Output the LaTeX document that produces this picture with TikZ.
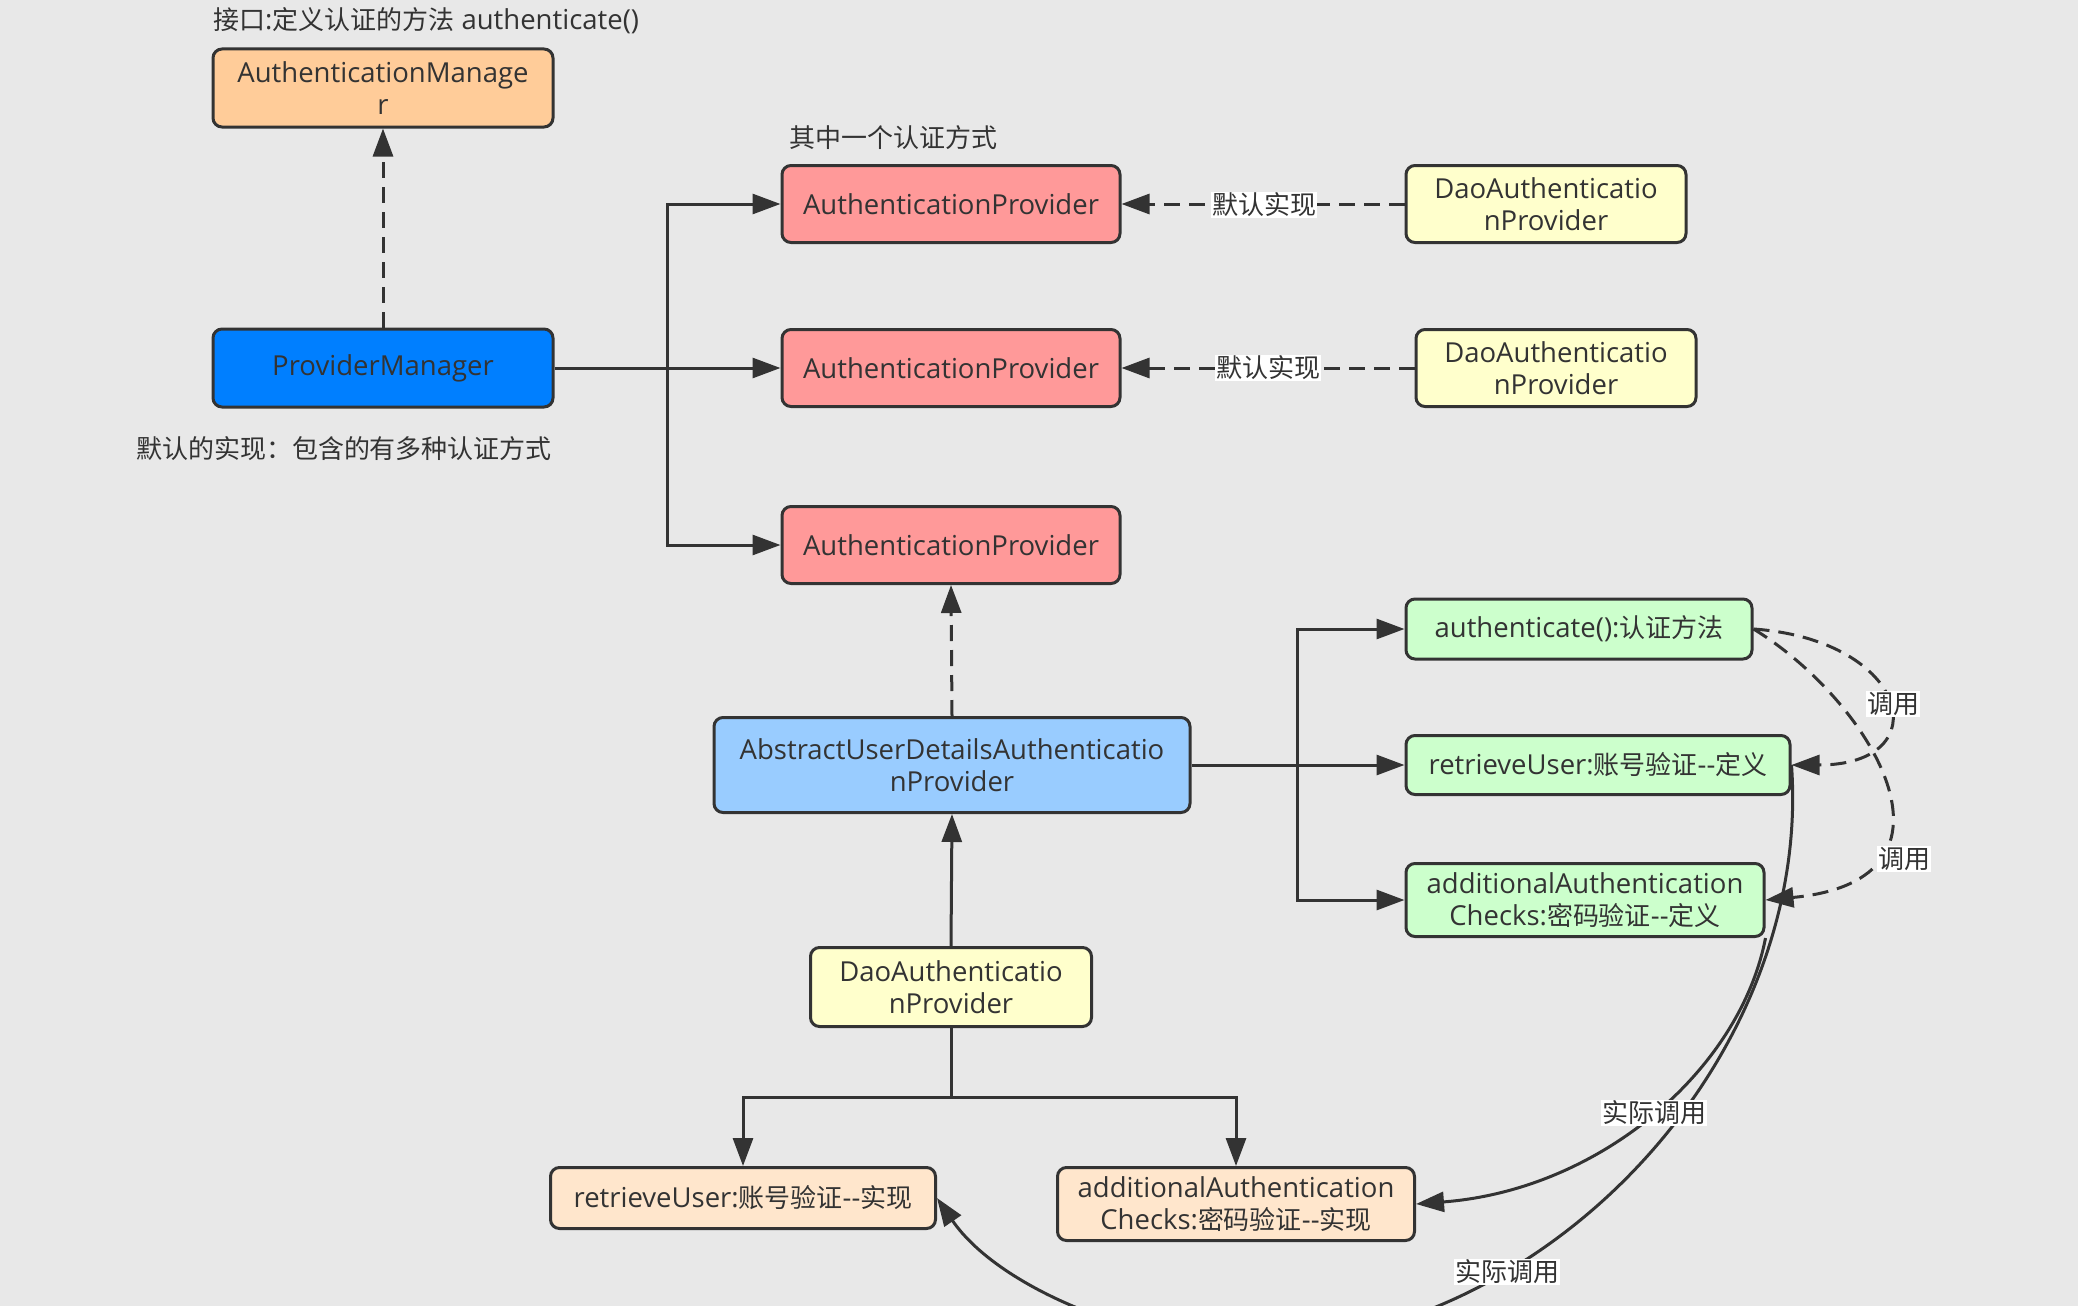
\documentclass[tikz,border=0pt]{standalone}
\usepackage{fontspec}
\setmainfont{Open Sans}
\newfontfamily\cjk[Scale=0.945]{Noto Sans CJK SC}
\usetikzlibrary{arrows.meta,calc}
\definecolor{bgC}{HTML}{E8E8E8}
\definecolor{lineC}{HTML}{333333}
\definecolor{textC}{HTML}{333333}
\definecolor{orangeC}{HTML}{FFCC99}
\definecolor{blueC}{HTML}{007FFF}
\definecolor{pinkC}{HTML}{FF9999}
\definecolor{yellowC}{HTML}{FFFFCC}
\definecolor{lblueC}{HTML}{99CCFF}
\definecolor{greenC}{HTML}{CCFFCC}
\definecolor{peachC}{HTML}{FFE6CC}
\newcommand\fsz{\fontsize{27.5}{32}\selectfont}
\begin{document}
\begin{tikzpicture}[x=1pt,y=-1pt,
  box/.style={draw=lineC, line width=3pt, rounded corners=9pt, align=center,
    inner sep=0pt, font=\fsz, text=textC},
  arr/.style={draw=lineC, line width=3pt, -{Triangle[length=28pt,width=20pt]}},
  darr/.style={arr, dash pattern=on 16pt off 9pt},
  lbl/.style={font=\fsz, text=textC, inner sep=0pt},
  elbl/.style={font=\fsz, text=textC, fill=white, inner sep=1pt}
]
\path[use as bounding box, fill=bgC] (0,0) rectangle (2078,1306);
\clip (0,0) rectangle (2078,1306);

% nodes
\node[box, fill=orangeC, minimum width=340pt, minimum height=78pt] (am) at (383,88) {AuthenticationManage\\r};
\node[box, fill=blueC, minimum width=340pt, minimum height=78pt] (pm) at (383,368) {ProviderManager};
\node[box, fill=pinkC, minimum width=338pt, minimum height=77pt] (ap1) at (951,204) {AuthenticationProvider};
\node[box, fill=pinkC, minimum width=338pt, minimum height=77pt] (ap2) at (951,368) {AuthenticationProvider};
\node[box, fill=pinkC, minimum width=338pt, minimum height=77pt] (ap3) at (951,545) {AuthenticationProvider};
\node[box, fill=yellowC, minimum width=280pt, minimum height=77pt] (dao1) at (1546,204) {DaoAuthenticatio\\nProvider};
\node[box, fill=yellowC, minimum width=280pt, minimum height=77pt] (dao2) at (1556,368) {DaoAuthenticatio\\nProvider};
\node[box, fill=lblueC, minimum width=476pt, minimum height=95pt] (abs) at (952,765) {AbstractUserDetailsAuthenticatio\\nProvider};
\node[box, fill=yellowC, minimum width=281pt, minimum height=79pt] (dao3) at (951,987) {DaoAuthenticatio\\nProvider};
\node[box, fill=greenC, minimum width=346pt, minimum height=60pt] (auth) at (1579,629) {authenticate():{\cjk 认证方法}};
\node[box, fill=greenC, minimum width=384pt, minimum height=59pt] (rdef) at (1598,765) {retrieveUser:{\cjk 账号验证}-{}-{\cjk 定义}};
\node[box, fill=greenC, minimum width=358pt, minimum height=73pt] (adef) at (1585,900) {additionalAuthentication\\Checks:{\cjk 密码验证}-{}-{\cjk 定义}};
\node[box, fill=peachC, minimum width=385pt, minimum height=61pt] (rimp) at (743,1198) {retrieveUser:{\cjk 账号验证}-{}-{\cjk 实现}};
\node[box, fill=peachC, minimum width=357pt, minimum height=73pt] (aimp) at (1236,1204) {additionalAuthentication\\Checks:{\cjk 密码验证}-{}-{\cjk 实现}};

% free labels
\node[lbl, anchor=west] (l1) at (213,21) {{\cjk 接口}:{\cjk 定义认证的方法} authenticate()};
\node[lbl, anchor=west] (l2) at (789,138) {\cjk 其中一个认证方式};
\node[lbl] (l3) at (344,449) {\cjk 默认的实现：包含的有多种认证方式};

% connectors
\coordinate (t1) at (667,368);
\coordinate (t2) at (1297,765);
\coordinate (t3) at (951,1097);
\draw[darr] (pm.north) -- (am.south);
\draw[arr] (pm.east) -- (ap2.west);
\draw[arr] (t1) |- (ap1.west);
\draw[arr] (t1) |- (ap3.west);
\draw[darr] (dao1.west) -- (ap1.east);
\draw[darr] (dao2.west) -- (ap2.east);
\node[elbl] (e1) at (1264,205) {\cjk 默认实现};
\node[elbl] (e2) at (1268,368) {\cjk 默认实现};
\draw[darr] (abs.north) -- (ap3.south);
\draw[arr] (dao3.north) -- (abs.south);
\draw[arr] (abs.east) -- (rdef.west);
\draw[arr] (t2) |- (auth.west);
\draw[arr] (t2) |- (adef.west);
\draw[arr] (dao3.south) -- (t3) -| (rimp.north);
\draw[arr] (t3) -| (aimp.north);

% call curves (dashed)
\draw[darr] (auth.east) .. controls (1910,640) and (1940,765) .. (rdef.east);
\draw[darr] (auth.east) .. controls (1870,700) and (1980,880) .. (adef.east);
\node[elbl] (c1) at (1893,704) {\cjk 调用};
\node[elbl] (c2) at (1904,859) {\cjk 调用};

% actual call curves (solid)
\draw[arr] (adef.south east) .. controls (1740,1070) and (1600,1190) .. (aimp.east);
\draw[arr] (rdef.east) .. controls (1812,1050) and (1560,1330) .. (1270,1345)
  .. controls (1150,1350) and (1000,1290) .. (rimp.east);
\node[elbl] (s1) at (1654,1113) {\cjk 实际调用};
\node[elbl] (s2) at (1507,1272) {\cjk 实际调用};
\end{tikzpicture}
\end{document}
